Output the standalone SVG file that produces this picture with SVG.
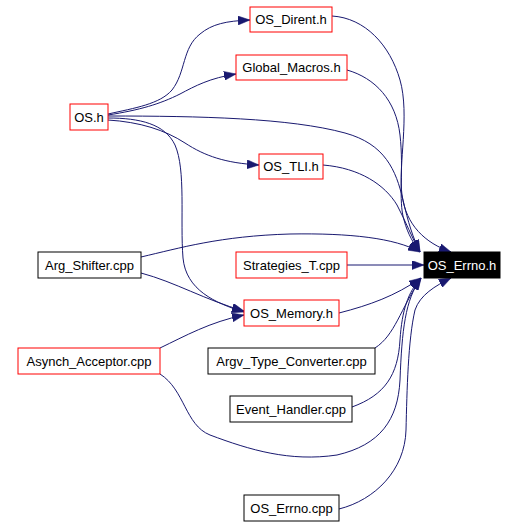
<svg xmlns="http://www.w3.org/2000/svg" width="518" height="526" viewBox="0 0 518 526">
<style>
.n rect{fill:#fff;stroke:#000;stroke-width:1}
.n.r rect{stroke:#ff0000}
.n text{font-family:"Liberation Sans",Arial,sans-serif;font-size:13px;text-anchor:middle;fill:#000}
.n.k rect{fill:#000;stroke:#000}
.n.k text{fill:#fff}
.e path{fill:none;stroke:#191970;stroke-width:1;marker-end:url(#a)}
</style>
<defs>
<marker id="a" markerUnits="userSpaceOnUse" markerWidth="12" markerHeight="9" refX="12" refY="4.5" orient="auto">
<path d="M0,0 L12,4.5 L0,9 z" fill="#191970" stroke="#191970" stroke-width="0.5"/>
</marker>
</defs>
<rect width="518" height="526" fill="#fff"/>
<g id="edges" class="e">
<path d="M108,114 C135,108 160,104 172,90 C186,72 182,48 200,34 C212,24 226,21 250,20"/>
<path d="M108,115 C140,110 160,104 180,94 C195,86 210,78 236,74"/>
<path d="M108,116 C200,116 290,118 345,133 C385,144 396,170 403,200 C408,222 413,238 420,252"/>
<path d="M108,120 C140,122 165,130 185,143 C205,156 225,163 259,165"/>
<path d="M108,118 C140,118 165,124 175,145 C186,170 180,220 183,258 C186,290 215,303 244,312"/>
<path d="M332,16 C365,18 390,45 400,80 C410,115 398,165 402,195 C406,225 425,243 451,252"/>
<path d="M347,70 C375,78 396,100 400,135 C404,170 398,200 404,220 C408,235 414,244 420,252"/>
<path d="M323,165 C360,168 385,185 397,205 C406,222 412,238 420,252"/>
<path d="M141,257 C180,248 220,236 290,234 C350,233 395,238 420,252"/>
<path d="M141,273 C175,282 205,300 244,311"/>
<path d="M347,265 L424,265"/>
<path d="M160,348 C185,336 210,322 244,315"/>
<path d="M339,313 C370,305 395,296 421,278"/>
<path d="M375,348 C395,335 400,310 421,278"/>
<path d="M352,407 C385,395 398,375 400,340 C402,310 408,292 421,278"/>
<path d="M160,374 C185,390 185,425 210,435 C250,450 290,462 337,455 C380,445 398,420 400,380 C402,330 405,300 421,278"/>
<path d="M339,509 C375,500 405,470 406,430 C407,390 408,340 415,310 C420,295 435,286 451,278"/>
</g>
<g id="OS_Errno_h" class="n k"><rect x="424" y="252" width="76" height="26"/><text x="462" y="270">OS_Errno.h</text></g>
<g id="OS_h" class="n r"><rect x="70" y="104" width="38" height="26"/><text x="89" y="122">OS.h</text></g>
<g id="OS_Dirent_h" class="n r"><rect x="250" y="7" width="82" height="25"/><text x="291" y="24">OS_Dirent.h</text></g>
<g id="Global_Macros_h" class="n r"><rect x="236" y="55" width="111" height="25"/><text x="291.5" y="72">Global_Macros.h</text></g>
<g id="OS_TLI_h" class="n r"><rect x="259" y="154" width="64" height="25"/><text x="291" y="171">OS_TLI.h</text></g>
<g id="Arg_Shifter_cpp" class="n"><rect x="38" y="252" width="103" height="26"/><text x="89.5" y="270">Arg_Shifter.cpp</text></g>
<g id="Strategies_T_cpp" class="n r"><rect x="236" y="252" width="111" height="26"/><text x="291.5" y="270">Strategies_T.cpp</text></g>
<g id="OS_Memory_h" class="n r"><rect x="244" y="300" width="95" height="26"/><text x="291.5" y="318">OS_Memory.h</text></g>
<g id="Asynch_Acceptor_cpp" class="n r"><rect x="18" y="348" width="142" height="26"/><text x="89" y="366">Asynch_Acceptor.cpp</text></g>
<g id="Argv_Type_Converter_cpp" class="n"><rect x="208" y="348" width="167" height="26"/><text x="291.5" y="366">Argv_Type_Converter.cpp</text></g>
<g id="Event_Handler_cpp" class="n"><rect x="230" y="396" width="122" height="26"/><text x="291" y="414">Event_Handler.cpp</text></g>
<g id="OS_Errno_cpp" class="n"><rect x="244" y="495" width="95" height="26"/><text x="291.5" y="513">OS_Errno.cpp</text></g>
</svg>
